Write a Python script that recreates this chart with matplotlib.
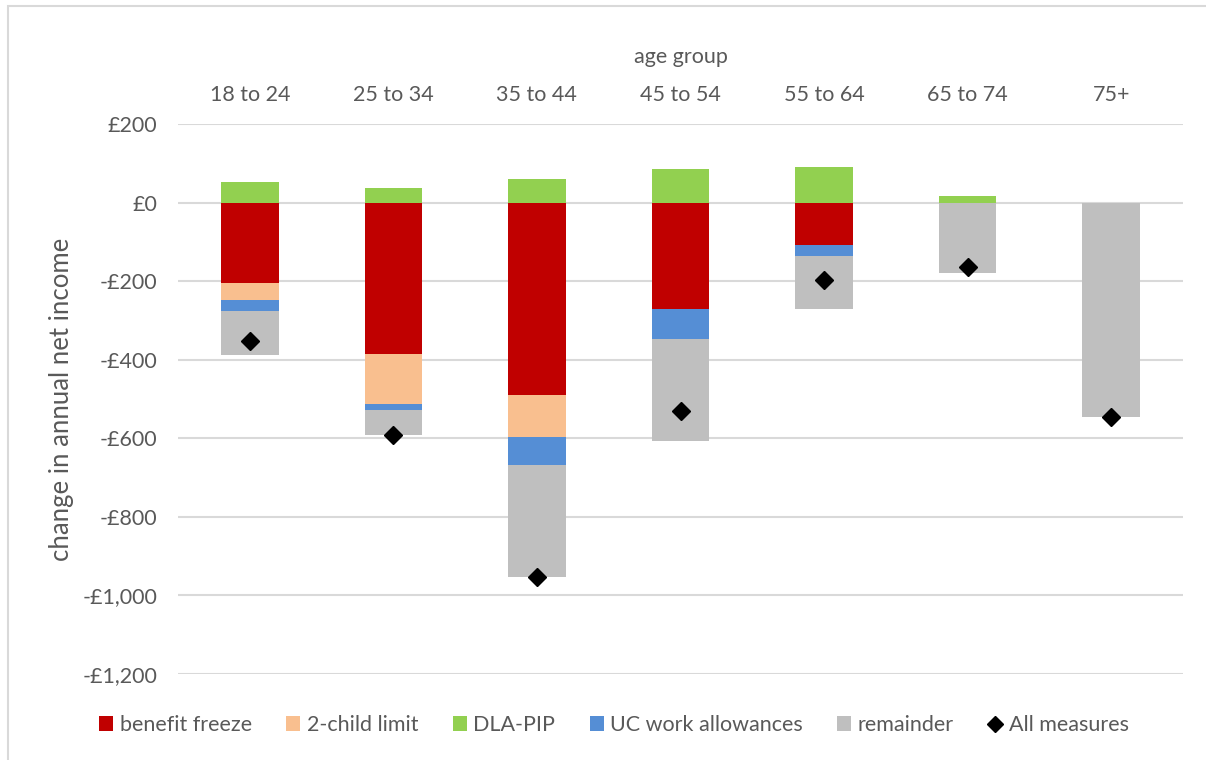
import numpy as np
import matplotlib
matplotlib.use("Agg")
import matplotlib.pyplot as plt
from matplotlib.patches import Patch, Rectangle
from matplotlib.lines import Line2D
from matplotlib.ticker import FuncFormatter, MultipleLocator

plt.rcParams['font.family'] = ['Lato', 'DejaVu Sans']

age_groups = ["18 to 24", "25 to 34", "35 to 44", "45 to 54", "55 to 64", "65 to 74", "75+"]
benefit_freeze = [-205, -386, -491, -272, -109, -2, -1]
two_child_limit = [-44, -127, -105, 0, 0, 0, 0]
dla_pip = [53, 37, 61, 86, 91, 16, 0]
uc_work_allowances = [-28, -14, -71, -74, -27, 0, 0]
remainder = [-111, -64, -286, -260, -134, -176, -545]
all_measures = [-352, -591, -952, -531, -196, -163, -545]

series = [
    ("benefit freeze", benefit_freeze, "#C00000"),
    ("2-child limit", two_child_limit, "#F9BF8F"),
    ("DLA-PIP", dla_pip, "#92D050"),
    ("UC work allowances", uc_work_allowances, "#558ED5"),
    ("remainder", remainder, "#BFBFBF"),
]

text_color = "#595959"
grid_color = "#D9D9D9"
fs = 15.5

fig = plt.figure(figsize=(12.06, 7.6), dpi=100)
ax = fig.add_axes([178 / 1206, 1 - 674 / 760, (1183 - 178) / 1206, (674 - 124) / 760])

x = np.arange(len(age_groups))
pos_base = np.zeros(len(x))
neg_base = np.zeros(len(x))
handles = []
for name, vals, color in series:
    vals = np.array(vals, dtype=float)
    base = np.where(vals >= 0, pos_base, neg_base)
    ax.bar(x, vals, width=0.4, bottom=base, color=color, zorder=2)
    pos_base = pos_base + np.clip(vals, 0, None)
    neg_base = neg_base + np.clip(vals, None, 0)
    handles.append(Patch(facecolor=color, label=name))

ax.plot(x, all_measures, linestyle="none", marker="D", markersize=9,
        color="black", zorder=3)
handles.append(Line2D([], [], linestyle="none", marker="D", markersize=8,
                      color="black", label="All measures"))

ax.set_xlim(-0.5, len(x) - 0.5)
ax.set_ylim(-1200, 200)
ax.yaxis.set_major_locator(MultipleLocator(200))


def money(v, _):
    v = int(round(v))
    return f"-£{abs(v):,}" if v < 0 else f"£{v:,}"


ax.yaxis.set_major_formatter(FuncFormatter(money))
ax.grid(axis="y", color=grid_color, linewidth=1.5, zorder=0)
ax.set_axisbelow(True)
for s in ax.spines.values():
    s.set_visible(False)

ax.xaxis.tick_top()
ax.xaxis.set_label_position("top")
ax.set_xticks(x)
ax.set_xticklabels(age_groups)
ax.tick_params(axis="x", length=0, pad=14, labelsize=fs, labelcolor=text_color)
ax.tick_params(axis="y", length=0, pad=15, labelsize=fs, labelcolor=text_color)
ax.set_xlabel("age group", fontsize=fs, color=text_color, va="center")
ax.xaxis.set_label_coords(0.5, 1 + 67 / 550)
ax.set_ylabel("change in annual net income", fontsize=18.5, color=text_color, va="center")
ax.yaxis.set_label_coords((62 - 178) / 1005, 0.5)

fig.legend(handles=handles, loc="center", bbox_to_anchor=(614 / 1206, 1 - 725 / 760),
           ncol=6, frameon=False, fontsize=fs, labelcolor=text_color,
           handlelength=0.65, handleheight=0.65, handletextpad=0.3, columnspacing=1.6)

fig.patches.append(Rectangle((8 / 1206, -0.1), 1.2, 1 - 6 / 760 + 0.1,
                             transform=fig.transFigure, fill=False,
                             edgecolor=grid_color, linewidth=1.5))

fig.savefig("out.png", dpi=100)
